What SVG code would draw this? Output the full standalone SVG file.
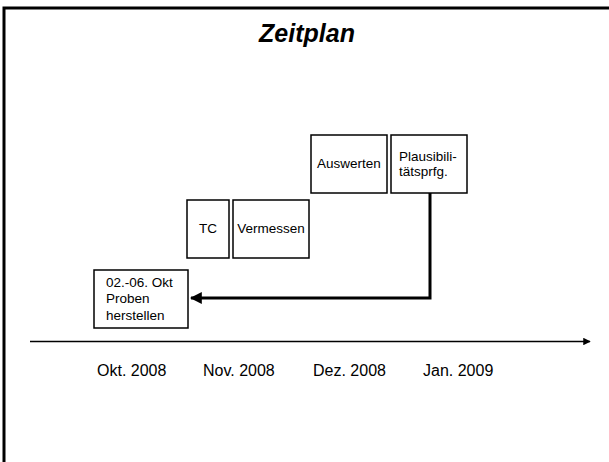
<svg xmlns="http://www.w3.org/2000/svg" width="609" height="462" viewBox="0 0 609 462">
<style>
text{font-family:"Liberation Sans",Arial,sans-serif;fill:#000}
.box{fill:#fff;stroke:#000;stroke-width:1.5}
.lbl{font-size:13.5px}
.mon{font-size:16px}
</style>
<defs>
<marker id="ah" viewBox="0 0 10 10" refX="9" refY="5" markerWidth="4" markerHeight="4" orient="auto" markerUnits="strokeWidth">
<path d="M0,0 L10,5 L0,10 z" fill="#000"/>
</marker>
<marker id="ax" viewBox="0 0 10 10" refX="9" refY="5" markerWidth="5" markerHeight="5" orient="auto" markerUnits="strokeWidth">
<path d="M0,0 L10,5 L0,10 z" fill="#000"/>
</marker>
</defs>
<rect x="0" y="0" width="609" height="462" fill="#fff"/>
<path d="M4,470 V8 H620" fill="none" stroke="#000" stroke-width="3"/>
<text x="307" y="42" text-anchor="middle" style="font-size:25px;font-weight:bold;font-style:italic">Zeitplan</text>
<g id="connectors">
<path d="M430,193 V298 H191" fill="none" stroke="#000" stroke-width="3" marker-end="url(#ah)"/>
<path d="M30,341.5 H590" fill="none" stroke="#000" stroke-width="1.5" marker-end="url(#ax)"/>
</g>
<g id="auswerten"><rect class="box" x="311" y="135" width="76" height="58"/><text class="lbl" x="349" y="168" text-anchor="middle">Auswerten</text></g>
<g id="plausibilitaet"><rect class="box" x="391" y="135" width="76" height="58"/><text class="lbl" x="399" y="161">Plausibili-</text><text class="lbl" x="399" y="176">tätsprfg.</text></g>
<g id="tc"><rect class="box" x="187" y="200" width="42" height="58"/><text class="lbl" x="208" y="233" text-anchor="middle">TC</text></g>
<g id="vermessen"><rect class="box" x="233" y="200" width="76" height="58"/><text class="lbl" x="271" y="233" text-anchor="middle">Vermessen</text></g>
<g id="proben"><rect class="box" x="94" y="270" width="94" height="58"/><text class="lbl" x="106" y="287">02.-06. Okt</text><text class="lbl" x="106" y="303">Proben</text><text class="lbl" x="106" y="320">herstellen</text></g>
<g id="months">
<text class="mon" x="97" y="376">Okt. 2008</text>
<text class="mon" x="203" y="376">Nov. 2008</text>
<text class="mon" x="313" y="376">Dez. 2008</text>
<text class="mon" x="423" y="376">Jan. 2009</text>
</g>
</svg>
